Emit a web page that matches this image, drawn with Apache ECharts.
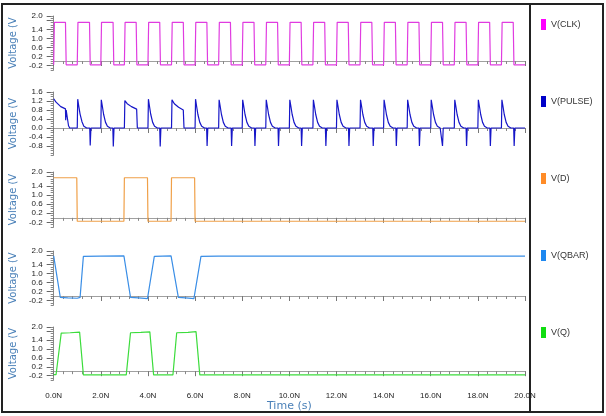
<!DOCTYPE html>
<html>
<head>
<meta charset="utf-8">
<script src="https://cdn.jsdelivr.net/npm/echarts@6/dist/echarts.min.js"></script>
<style>html,body{margin:0;padding:0;background:#fff}</style>
</head>
<body>
<div id="chart" style="width:606px;height:416px"></div>
<script>
// signal names, top to bottom
const signalNames = ["V(CLK)", "V(PULSE)", "V(D)", "V(QBAR)", "V(Q)"];
const signalColors = ["#e03ce0", "#1616c8", "#f0a048", "#3a8ee6", "#3cdc3c"];
const legendColors = ["#ff00ff", "#0000c8", "#ff8c28", "#1e88f0", "#11dd11"];

// time axis labels (ns), one per 2 ns
const timeLabels = ["0.0N", "2.0N", "4.0N", "6.0N", "8.0N", "10.0N", "12.0N", "14.0N", "16.0N", "18.0N", "20.0N"];
// voltage tick labels
const voltTicksMain = [-0.2, 0.2, 0.6, 1.0, 1.4, 2.0];
const voltTicksPulse = [-0.8, -0.4, 0.0, 0.4, 0.8, 1.2, 1.6];

// [time ns, volts]
const clkData = [
  [0, -0.17], [0.03, 1.72], [0.5, 1.72], [0.53, -0.17],
  [1, -0.17], [1.03, 1.72], [1.52, 1.72], [1.55, -0.17],
  [2, -0.17], [2.03, 1.72], [2.52, 1.72], [2.55, -0.17],
  [3, -0.17], [3.03, 1.72], [3.5, 1.72], [3.53, -0.17],
  [4, -0.17], [4.03, 1.72], [4.5, 1.72], [4.53, -0.17],
  [5, -0.17], [5.03, 1.72], [5.5, 1.72], [5.53, -0.17],
  [6, -0.17], [6.03, 1.72], [6.5, 1.72], [6.53, -0.17],
  [7, -0.17], [7.03, 1.72], [7.5, 1.72], [7.53, -0.17],
  [8, -0.17], [8.03, 1.72], [8.5, 1.72], [8.53, -0.17],
  [9, -0.17], [9.03, 1.72], [9.5, 1.72], [9.53, -0.17],
  [10, -0.17], [10.03, 1.72], [10.5, 1.72], [10.53, -0.17],
  [11, -0.17], [11.03, 1.72], [11.5, 1.72], [11.53, -0.17],
  [12, -0.17], [12.03, 1.72], [12.5, 1.72], [12.53, -0.17],
  [13, -0.17], [13.03, 1.72], [13.5, 1.72], [13.53, -0.17],
  [14, -0.17], [14.03, 1.72], [14.5, 1.72], [14.53, -0.17],
  [15, -0.17], [15.03, 1.72], [15.5, 1.72], [15.53, -0.17],
  [16, -0.17], [16.03, 1.72], [16.5, 1.72], [16.53, -0.17],
  [17, -0.17], [17.03, 1.72], [17.5, 1.72], [17.53, -0.17],
  [18, -0.17], [18.03, 1.72], [18.5, 1.72], [18.53, -0.17],
  [19, -0.17], [19.03, 1.72], [19.5, 1.72], [19.53, -0.17],
  [20, -0.17]
];

const pulseData = [
  [0, 1.3], [0.1, 1.15], [0.3, 0.95], [0.5, 0.85], [0.51, 0.35], [0.53, 0.8], [0.58, 0.78], [0.63, 0.1], [0.68, 0],
  [1, 0], [1.02, 1.28], [1.06, 1.0], [1.12, 0.62], [1.2, 0.28], [1.28, 0.08], [1.4, 0], [1.53, 0], [1.55, -0.78], [1.58, 0],
  [2, 0], [2.02, 1.25], [2.06, 1.0], [2.12, 0.6], [2.2, 0.25], [2.28, 0.08], [2.4, 0], [2.51, 0], [2.53, -0.82], [2.56, 0],
  [3, 0], [3.02, 1.22], [3.12, 1.08], [3.3, 0.95], [3.52, 0.84], [3.55, 0],
  [4, 0], [4.02, 1.28], [4.06, 1.0], [4.12, 0.6], [4.2, 0.25], [4.28, 0.08], [4.4, 0], [4.5, 0], [4.52, -0.82], [4.55, 0],
  [5, 0], [5.02, 1.25], [5.12, 1.08], [5.3, 0.92], [5.5, 0.8], [5.53, 0],
  [6, 0], [6.02, 1.28], [6.06, 1.0], [6.12, 0.6], [6.2, 0.25], [6.28, 0.08], [6.4, 0], [6.49, 0], [6.51, -0.8], [6.54, 0],
  [7, 0], [7.02, 1.25], [7.06, 1.0], [7.12, 0.6], [7.2, 0.25], [7.28, 0.08], [7.4, 0], [7.53, 0], [7.55, -0.8], [7.58, 0],
  [8, 0], [8.02, 1.25], [8.06, 1.0], [8.12, 0.6], [8.2, 0.25], [8.28, 0.08], [8.4, 0], [8.52, 0], [8.54, -0.8], [8.57, 0],
  [9, 0], [9.02, 1.25], [9.06, 1.0], [9.12, 0.6], [9.2, 0.25], [9.28, 0.08], [9.4, 0], [9.52, 0], [9.54, -0.8], [9.57, 0],
  [10, 0], [10.02, 1.25], [10.06, 1.0], [10.12, 0.6], [10.2, 0.25], [10.28, 0.08], [10.4, 0], [10.5, 0], [10.52, -0.8], [10.55, 0],
  [11, 0], [11.02, 1.25], [11.06, 1.0], [11.12, 0.6], [11.2, 0.25], [11.28, 0.08], [11.4, 0], [11.53, 0], [11.55, -0.8], [11.58, 0],
  [12, 0], [12.02, 1.25], [12.06, 1.0], [12.12, 0.6], [12.2, 0.25], [12.28, 0.08], [12.4, 0], [12.51, 0], [12.53, -0.8], [12.56, 0],
  [13, 0], [13.02, 1.25], [13.06, 1.0], [13.12, 0.6], [13.2, 0.25], [13.28, 0.08], [13.4, 0], [13.54, 0], [13.56, -0.8], [13.59, 0],
  [14, 0], [14.02, 1.25], [14.06, 1.0], [14.12, 0.6], [14.2, 0.25], [14.28, 0.08], [14.4, 0], [14.52, 0], [14.54, -0.8], [14.57, 0],
  [15, 0], [15.02, 1.25], [15.06, 1.0], [15.12, 0.6], [15.2, 0.25], [15.28, 0.08], [15.4, 0], [15.5, 0], [15.52, -0.8], [15.55, 0],
  [16, 0], [16.02, 1.25], [16.06, 1.0], [16.12, 0.6], [16.2, 0.25], [16.28, 0.08], [16.4, 0], [16.48, 0], [16.5, -0.8], [16.53, 0],
  [17, 0], [17.02, 1.25], [17.06, 1.0], [17.12, 0.6], [17.2, 0.25], [17.28, 0.08], [17.4, 0], [17.5, 0], [17.52, -0.8], [17.55, 0],
  [18, 0], [18.02, 1.25], [18.06, 1.0], [18.12, 0.6], [18.2, 0.25], [18.28, 0.08], [18.4, 0], [18.51, 0], [18.53, -0.8], [18.56, 0],
  [19, 0], [19.02, 1.25], [19.06, 1.0], [19.12, 0.6], [19.2, 0.25], [19.28, 0.08], [19.4, 0], [19.52, 0], [19.54, -0.8], [19.57, 0],
  [20, 0]
];

const dData = [
  [0, 1.75], [0.98, 1.75], [1.0, -0.15], [2.98, -0.15], [3.0, 1.75], [3.98, 1.75],
  [4.0, -0.15], [4.98, -0.15], [5.0, 1.75], [5.98, 1.75], [6.0, -0.15], [20, -0.15]
];

const qbarData = [
  [0, 1.78], [0.04, 1.83], [0.08, 1.76], [0.28, -0.06], [0.6, -0.08], [1.0, -0.1], [1.08, -0.12], [1.12, -0.06],
  [1.26, 1.76], [1.98, 1.77], [2.0, 1.82], [2.02, 1.77], [2.98, 1.78], [3.0, 1.83], [3.05, 1.76],
  [3.26, -0.06], [3.6, -0.08], [3.98, -0.12], [4.03, -0.06], [4.27, 1.76],
  [4.98, 1.78], [5.0, 1.83], [5.04, 1.76], [5.29, -0.06], [5.6, -0.08], [5.95, -0.12], [6.0, -0.06], [6.25, 1.76],
  [6.98, 1.77], [7, 1.82], [7.02, 1.77], [7.98, 1.77], [8, 1.82], [8.02, 1.77],
  [8.98, 1.77], [9, 1.82], [9.02, 1.77], [9.98, 1.77], [10, 1.82], [10.02, 1.77],
  [10.98, 1.77], [11, 1.82], [11.02, 1.77], [11.98, 1.77], [12, 1.82], [12.02, 1.77],
  [12.98, 1.77], [13, 1.82], [13.02, 1.77], [13.98, 1.77], [14, 1.82], [14.02, 1.77],
  [14.98, 1.77], [15, 1.82], [15.02, 1.77], [15.98, 1.77], [16, 1.82], [16.02, 1.77],
  [16.98, 1.77], [17, 1.82], [17.02, 1.77], [17.98, 1.77], [18, 1.82], [18.02, 1.77],
  [18.98, 1.77], [19, 1.82], [19.02, 1.77], [20, 1.77]
];

const qData = [
  [0, -0.16], [0.05, -0.1], [0.1, -0.16], [0.32, 1.72], [0.7, 1.74], [1.1, 1.77], [1.14, 1.8], [1.17, 1.7],
  [1.26, -0.17], [1.48, -0.17], [1.5, -0.12], [1.52, -0.17], [2.48, -0.17], [2.5, -0.12], [2.52, -0.17],
  [3.08, -0.17], [3.12, -0.13], [3.26, 1.74], [3.7, 1.76], [4.08, 1.78], [4.1, 1.72],
  [4.24, -0.17], [4.48, -0.17], [4.5, -0.12], [4.52, -0.17], [5.06, -0.17], [5.08, -0.13],
  [5.22, 1.74], [5.7, 1.76], [6.04, 1.79], [6.07, 1.72], [6.2, -0.17],
  [6.48, -0.17], [6.5, -0.12], [6.52, -0.17], [7.48, -0.17], [7.5, -0.12], [7.52, -0.17],
  [8.48, -0.17], [8.5, -0.12], [8.52, -0.17], [9.48, -0.17], [9.5, -0.12], [9.52, -0.17],
  [10.48, -0.17], [10.5, -0.12], [10.52, -0.17], [11.48, -0.17], [11.5, -0.12], [11.52, -0.17],
  [12.48, -0.17], [12.5, -0.12], [12.52, -0.17], [13.48, -0.17], [13.5, -0.12], [13.52, -0.17],
  [14.48, -0.17], [14.5, -0.12], [14.52, -0.17], [15.48, -0.17], [15.5, -0.12], [15.52, -0.17],
  [16.48, -0.17], [16.5, -0.12], [16.52, -0.17], [17.48, -0.17], [17.5, -0.12], [17.52, -0.17],
  [18.48, -0.17], [18.5, -0.12], [18.52, -0.17], [19.48, -0.17], [19.5, -0.12], [19.52, -0.17],
  [20, -0.17]
];

const seriesData = [clkData, pulseData, dData, qbarData, qData];

// panel layout
const panelTop = [16, 92, 172, 251, 327];
const panelHeight = [54, 63, 55, 54, 53];
const panelMin = [-0.4, -1.2, -0.4, -0.4, -0.4];
const panelMax = [2.0, 1.6, 2.0, 2.0, 2.0];
const legendTop = [14, 91, 168, 245, 322];

const chart = echarts.init(document.getElementById("chart"));

const grid = [], xAxis = [], yAxis = [], series = [], legend = [];
for (let i = 0; i < 5; i++) {
  const last = i === 4;
  grid.push({ left: 49, right: 81, top: panelTop[i], height: panelHeight[i] });
  // bottom time axis
  xAxis.push({
    type: "value", gridIndex: i, min: 0, max: 20, interval: 2,
    position: "bottom",
    axisLine: { show: true, lineStyle: { color: "#9a9a9a", width: 1 } },
    axisTick: { show: true, length: 5, lineStyle: { color: "#777" } },
    minorTick: { show: true, splitNumber: 5, length: 3, lineStyle: { color: "#888" } },
    splitLine: { show: false },
    axisLabel: {
      show: last, margin: 12, color: "#222", fontSize: 8, fontFamily: "Liberation Sans",
      formatter: (v) => timeLabels[Math.round(v / 2)]
    },
    name: last ? "Time (s)" : "",
    nameLocation: "middle", nameGap: 19,
    nameTextStyle: { color: "#4a80b8", fontSize: 11, fontFamily: "DejaVu Sans" }
  });
  // top border line of each panel
  xAxis.push({
    type: "value", gridIndex: i, min: 0, max: 20, position: "top",
    offset: i === 1 ? -3 : 0,
    axisLine: { show: true, lineStyle: { color: "#a0a0a0", width: 1 } },
    axisTick: { show: false }, axisLabel: { show: false }, splitLine: { show: false }
  });
  const ticks = i === 1 ? voltTicksPulse : voltTicksMain;
  yAxis.push({
    type: "value", gridIndex: i, min: panelMin[i], max: panelMax[i],
    axisLine: { show: true, lineStyle: { color: "#8a8a8a" } },
    axisTick: { show: true, length: 7, customValues: ticks.concat(i === 1 ? [] : [1.8]), lineStyle: { color: "#666" } },
    axisLabel: {
      customValues: ticks, margin: 11, color: "#222", fontSize: 8, fontFamily: "Liberation Sans",
      formatter: (v) => v.toFixed(1)
    },
    splitLine: { show: false },
    name: "Voltage (V", nameLocation: "middle", nameGap: 30,
    nameTextStyle: { color: "#4a80b8", fontSize: 10, fontFamily: "DejaVu Sans" }
  });
  // fine ticks along voltage axis
  yAxis.push({
    type: "value", gridIndex: i, min: panelMin[i], max: panelMax[i], interval: 0.1,
    position: "left",
    axisLine: { show: false },
    axisTick: { show: true, length: 3, lineStyle: { color: "#888" } },
    axisLabel: { show: false }, splitLine: { show: false }
  });
  series.push({
    name: signalNames[i], type: "line", xAxisIndex: i * 2, yAxisIndex: i * 2,
    data: seriesData[i], showSymbol: false, animation: false,
    lineStyle: { color: signalColors[i], width: 1.2 },
    itemStyle: { color: legendColors[i] }
  });
  legend.push({
    data: [signalNames[i]], left: 536, top: legendTop[i], orient: "vertical",
    icon: "rect", itemWidth: 5, itemHeight: 11, itemGap: 4,
    textStyle: { color: "#333", fontSize: 9, fontFamily: "Liberation Sans" }
  });
}

const option = {
  backgroundColor: "#fff",
  animation: false,
  grid, xAxis, yAxis, series, legend,
  graphic: [
    { type: "rect", shape: { x: 2, y: 4, width: 601, height: 408 }, style: { fill: "none", stroke: "#222", lineWidth: 2 } },
    { type: "line", shape: { x1: 530, y1: 4, x2: 530, y2: 412 }, style: { stroke: "#222", lineWidth: 2 } }
  ]
};
chart.setOption(option);
</script>
</body>
</html>
